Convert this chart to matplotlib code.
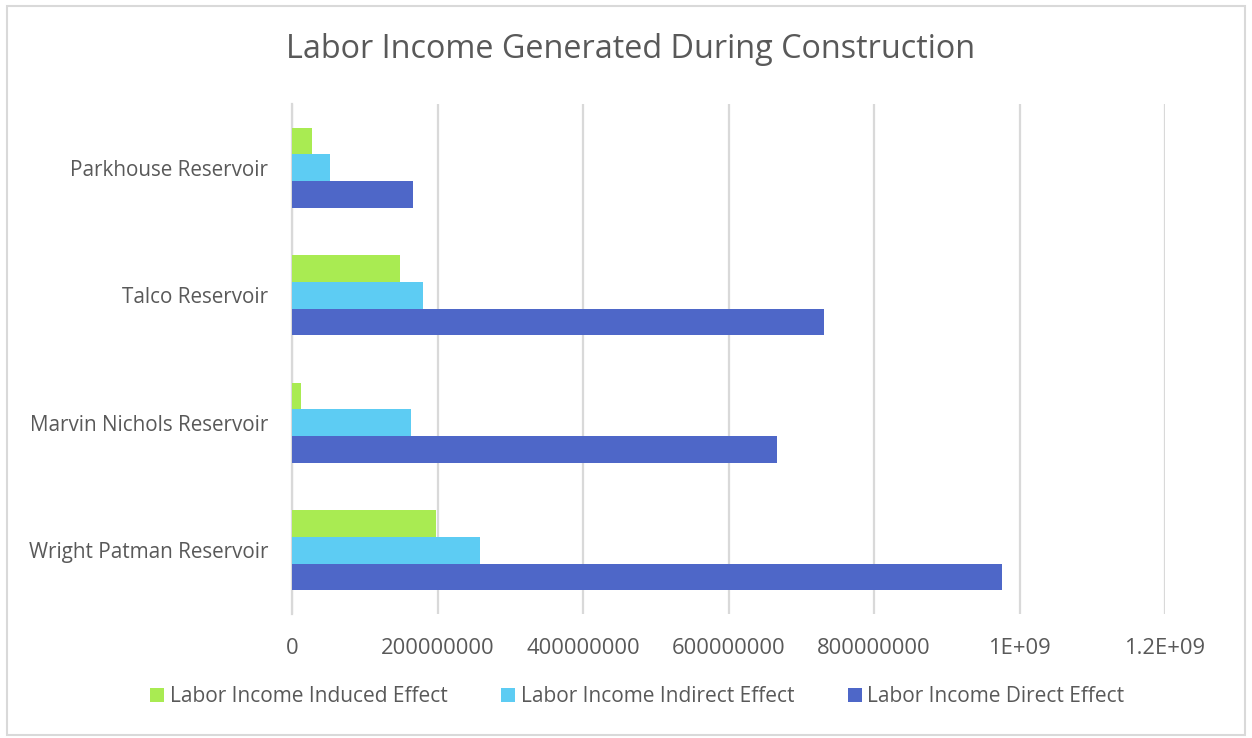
import numpy as np
import matplotlib.pyplot as plt
from matplotlib.patches import Rectangle

plt.rcParams['font.family'] = ['Open Sans', 'DejaVu Sans']

# ---- Data ----
reservoirs = ["Wright Patman Reservoir", "Marvin Nichols Reservoir",
              "Talco Reservoir", "Parkhouse Reservoir"]
direct = [976e6, 667e6, 731e6, 167e6]
indirect = [258e6, 164e6, 180e6, 52e6]
induced = [198e6, 13e6, 148e6, 27.5e6]
xticks = [0, 200e6, 400e6, 600e6, 800e6, 1e9, 1.2e9]
xtick_labels = ["0", "200000000", "400000000", "600000000",
                "800000000", "1E+09", "1.2E+09"]

text_color = "#595959"
grid_color = "#D9D9D9"

# ---- Plot ----
fig = plt.figure(figsize=(12.52, 7.38), dpi=100)
ax = fig.add_axes([292 / 1252, 1 - 614 / 738, 873 / 1252, 510 / 738])

y = np.arange(len(reservoirs))
h = 0.21
ax.barh(y - h, direct, height=h, color="#4E67C8", label="Labor Income Direct Effect", zorder=3)
ax.barh(y, indirect, height=h, color="#5DCCF3", label="Labor Income Indirect Effect", zorder=3)
ax.barh(y + h, induced, height=h, color="#A9EB52", label="Labor Income Induced Effect", zorder=3)

ax.set_xlim(0, 1.2e9)
ax.set_ylim(-0.5, len(reservoirs) - 0.5)
ax.set_yticks(y)
ax.set_yticklabels(reservoirs, fontsize=14.9, color=text_color)
ax.set_xticks(xticks)
ax.set_xticklabels(xtick_labels, fontsize=15.8, color=text_color)
ax.tick_params(length=0)
ax.tick_params(axis='x', pad=17)
ax.tick_params(axis='y', pad=17)

ax.grid(axis='x', color=grid_color, linewidth=1.6, zorder=0)
for side in ["top", "right", "bottom"]:
    ax.spines[side].set_visible(False)
ax.spines["left"].set_color(grid_color)
ax.spines["left"].set_linewidth(1.6)

fig.text(0.5 * (287 + 975) / 1252, 1 - 50 / 738, "Labor Income Generated During Construction",
         ha="center", va="center", fontsize=23.3, color=text_color)

handles, labels = ax.get_legend_handles_labels()
leg = fig.legend(handles[::-1], labels[::-1], loc="center", ncol=3,
                 bbox_to_anchor=(0.5 * (148 + 1127) / 1252, 1 - 697 / 738),
                 frameon=False, fontsize=15, handlelength=0.67, handleheight=0.67,
                 handletextpad=0.25, columnspacing=2.6)
for t in leg.get_texts():
    t.set_color(text_color)

# outer chart frame
fig.patches.append(Rectangle((7 / 1252, 1 - 735 / 738), 1238 / 1252, 729 / 738,
                             transform=fig.transFigure, fill=False,
                             edgecolor=grid_color, linewidth=1.5))

plt.savefig("out.png", dpi=100)
plt.close()
